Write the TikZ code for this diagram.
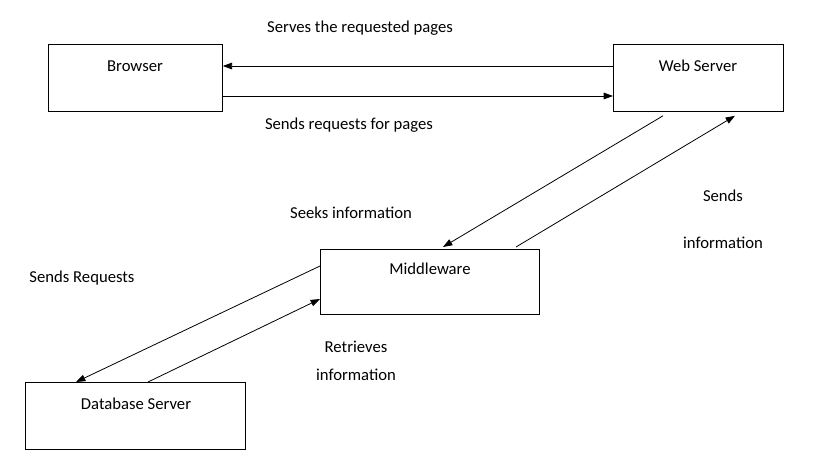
\documentclass[tikz,border=0pt]{standalone}
\usepackage{fontspec}
\setmainfont{Carlito}
\usetikzlibrary{calc,arrows.meta}
\begin{document}
\begin{tikzpicture}[x=0.75pt,y=-0.75pt,
 box/.style={draw,line width=0.6pt,anchor=north west,inner sep=0},
 lbl/.style={font=\fontsize{12.5}{15}\selectfont,inner sep=0},
 arr/.style={-{Triangle[length=7pt,width=5pt]},line width=0.6pt}]
\useasboundingbox (0,0) rectangle (814,457);
\node[box,minimum width=174*0.75pt,minimum height=67*0.75pt] (br) at (48,44) {};
\node[box,minimum width=170*0.75pt,minimum height=67*0.75pt] (ws) at (613,44) {};
\node[box,minimum width=219*0.75pt,minimum height=65*0.75pt] (mw) at (320,249) {};
\node[box,minimum width=220*0.75pt,minimum height=67*0.75pt] (db) at (25,382) {};
\node[lbl] (tbr) at (135,66) {Browser};
\node[lbl] (tws) at (698,66) {Web Server};
\node[lbl] (tmw) at (430,269) {Middleware};
\node[lbl] (tdb) at (136,404) {Database Server};
\draw[arr] ($(ws.north west)+(0,22)$) -- ($(br.north east)+(0,22)$);
\draw[arr] ($(br.north east)+(0,52)$) -- ($(ws.north west)+(0,52)$);
\draw[arr] ($(ws.south west)+(50,4)$) -- ($(mw.north west)+(123,-2)$);
\draw[arr] ($(mw.north west)+(196,-2)$) -- ($(ws.south west)+(122,4)$);
\draw[arr] ($(mw.north west)+(0,17)$) -- ($(db.north west)+(51,0)$);
\draw[arr] ($(db.north west)+(123,0)$) -- ($(mw.north west)+(0,50)$);
\node[lbl] (l1) at (360,28) {Serves the requested pages};
\node[lbl] (l2) at (349,125) {Sends requests for pages};
\node[lbl] (l3) at (351,213) {Seeks information};
\node[lbl] (l4) at (723,196) {Sends};
\node[lbl] (l5) at (723,243) {information};
\node[lbl] (l6) at (82,278) {Sends Requests};
\node[lbl] (l7) at (356,347) {Retrieves};
\node[lbl] (l8) at (356,375) {information};
\end{tikzpicture}
\end{document}
